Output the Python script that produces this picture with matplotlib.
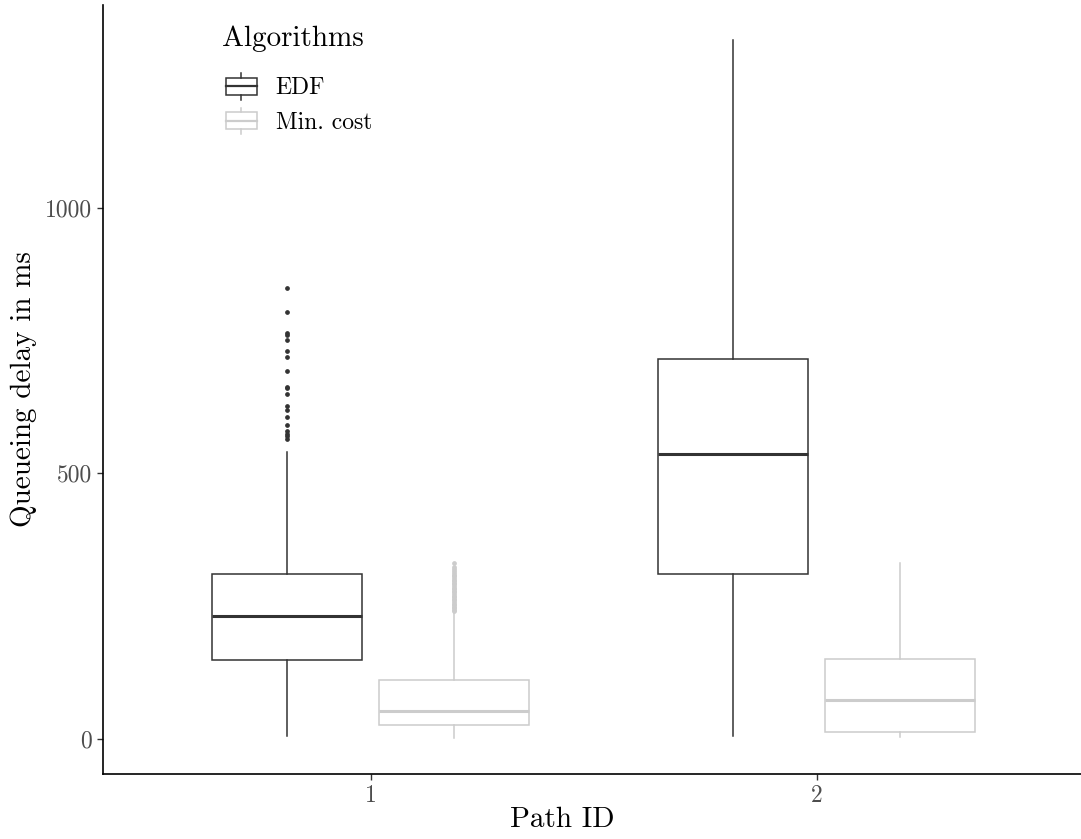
import matplotlib
matplotlib.use("Agg")
import matplotlib.pyplot as plt
from matplotlib.patches import Rectangle
from matplotlib.lines import Line2D
from matplotlib.legend_handler import HandlerBase

plt.rcParams['font.family'] = 'cmr10'
plt.rcParams['mathtext.fontset'] = 'cm'
plt.rcParams['axes.formatter.use_mathtext'] = True

# box statistics (ms)
paths = [1, 2]
algorithms = ["EDF", "Min. cost"]
colors = {"EDF": "#333333", "Min. cost": "#CCCCCC"}

q1 = {"EDF": [149, 310], "Min. cost": [26, 14]}
med = {"EDF": [231, 537], "Min. cost": [53, 73]}
q3 = {"EDF": [310, 716], "Min. cost": [111, 150]}
whislo = {"EDF": [5, 5], "Min. cost": [1, 3]}
whishi = {"EDF": [541, 1316], "Min. cost": [237, 331]}
outliers = {
    "EDF": [
        [850, 804, 765, 760, 752, 730, 719, 692, 663, 660, 649, 627, 619,
         607, 592, 580, 575, 571, 565],
        [],
    ],
    "Min. cost": [
        [240, 243, 246, 249, 252, 255, 258, 261, 264, 267, 270, 273, 276,
         279, 282, 285, 288, 291, 294, 297, 300, 303, 306, 309, 312, 316,
         320, 324, 332],
        [],
    ],
}


class BoxHandler(HandlerBase):
    def create_artists(self, legend, orig_handle, xdescent, ydescent,
                       width, height, fontsize, trans):
        c = orig_handle.get_color()
        x0, y0 = -xdescent, -ydescent
        bw = width * 0.9
        bx = x0 + (width - bw) / 2
        bh = height * 0.64
        by = y0 + (height - bh) / 2
        xm = x0 + width / 2
        arts = [
            Rectangle((bx, by), bw, bh, facecolor="white", edgecolor=c, lw=1.1, transform=trans),
            Line2D([bx, bx + bw], [y0 + height / 2] * 2, color=c, lw=1.6, transform=trans),
            Line2D([xm, xm], [by + bh, y0 + height], color=c, lw=1.1, transform=trans),
            Line2D([xm, xm], [y0, by], color=c, lw=1.1, transform=trans),
        ]
        return arts


fig = plt.figure(figsize=(10.81, 8.39), dpi=100)
ax = fig.add_axes([103 / 1081, 65 / 839, 1 - 103 / 1081, 769 / 839])

dodge = 0.1875
width = 0.3375
for j, alg in enumerate(algorithms):
    c = colors[alg]
    stats = []
    for i, p in enumerate(paths):
        stats.append(dict(med=med[alg][i], q1=q1[alg][i], q3=q3[alg][i],
                          whislo=whislo[alg][i], whishi=whishi[alg][i],
                          fliers=outliers[alg][i]))
    pos = [p + (-dodge if j == 0 else dodge) for p in paths]
    ax.bxp(stats, positions=pos, widths=width, showcaps=False, patch_artist=True,
           boxprops=dict(facecolor="white", edgecolor=c, lw=1.1),
           medianprops=dict(color=c, lw=2.2),
           whiskerprops=dict(color=c, lw=1.1),
           flierprops=dict(marker="o", markersize=2.4, markerfacecolor=c,
                           markeredgecolor=c, linestyle="none"))

ax.set_xlim(0.4, 2.593)
ax.set_ylim(-66, 1382)
ax.set_xticks(paths)
ax.set_xticklabels([str(p) for p in paths])
ax.set_yticks([0, 500, 1000])
ax.set_yticklabels(["0", "500", "1000"])
for s in ["top", "right"]:
    ax.spines[s].set_visible(False)
for s in ["left", "bottom"]:
    ax.spines[s].set_linewidth(1.2)
ax.tick_params(axis="both", length=4, width=1.0, color="#333333",
               labelcolor="#4D4D4D", labelsize=17, pad=4)

ax.set_xlabel("Path ID", fontsize=21, va="top")
ax.xaxis.set_label_coords(0.47, -0.043)
ax.set_ylabel("Queueing delay in ms", fontsize=21)
ax.yaxis.set_label_coords(-0.0675, 0.5)

# legend title drawn on its own so the gap to the keys can be set
fig.text(222 / 1081, 1 - 39 / 839, "Algorithms", fontsize=21, va="center", ha="left")
handles = [Line2D([], [], color=colors[a]) for a in algorithms]
leg = ax.legend(handles, algorithms, loc="upper left",
                bbox_to_anchor=(224 / 1081, 1 - 73 / 839), bbox_transform=fig.transFigure,
                handler_map={Line2D: BoxHandler()}, frameon=False, fontsize=17,
                handlelength=1.45, handleheight=1.35,
                handletextpad=0.74, labelspacing=0.34, borderpad=0, borderaxespad=0)

fig.savefig("out.png", dpi=100)
